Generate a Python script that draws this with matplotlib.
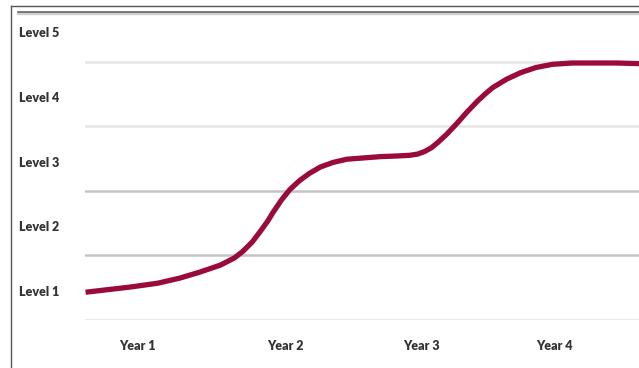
import matplotlib
matplotlib.use('Agg')
import matplotlib.pyplot as plt
import matplotlib.transforms as mtransforms
from matplotlib.lines import Line2D

# progression curve (x in years, y in levels)
years = [0.63, 0.95, 1.15, 1.31, 1.45, 1.60, 1.70, 1.76, 1.83, 1.89, 1.94, 1.98, 2.04,
         2.10, 2.17, 2.24, 2.32, 2.41, 2.51, 2.63, 2.75, 2.87, 2.96, 3.02, 3.07, 3.12,
         3.17, 3.23, 3.30, 3.37, 3.45, 3.51, 3.56, 3.66, 3.76, 3.87, 3.99, 4.13, 4.28, 4.45, 4.62]
levels = [0.93, 1.01, 1.07, 1.15, 1.24, 1.35, 1.46, 1.56, 1.71, 1.88, 2.03, 2.17, 2.36,
          2.52, 2.66, 2.77, 2.87, 2.94, 2.99, 3.01, 3.03, 3.04, 3.05, 3.07, 3.11, 3.17,
          3.26, 3.38, 3.54, 3.71, 3.89, 4.01, 4.10, 4.23, 4.33, 4.41, 4.46, 4.48, 4.48, 4.48, 4.47]

level_labels = ['Level 1', 'Level 2', 'Level 3', 'Level 4', 'Level 5']
level_pos = [1, 2, 3, 4, 5]
band_edges = [0.5, 1.5, 2.5, 3.5, 4.5]
year_labels = ['Year 1', 'Year 2', 'Year 3', 'Year 4']
year_pos = [1.0, 2.07, 3.05, 4.0]

W, H = 639, 368
fig = plt.figure(figsize=(W / 100, H / 100), dpi=100)
fig.patch.set_facecolor('white')

ax = fig.add_axes([85 / W, 1 - 320 / H, 1 - 85 / W, (320 - 12) / H])
ax.set_xlim(0.626, 4.612)
ax.set_ylim(0.5, 5.27)

grid_colors = ['#e2e2e2', '#c4c4c4', '#c4c4c4', '#e6e6e6', '#e6e6e6']
for yb, c in zip(band_edges, grid_colors):
    ax.axhline(yb, color=c, lw=1.8, zorder=1)

ax.plot(years, levels, color='#9b0a3c', lw=3.8, solid_capstyle='butt',
        solid_joinstyle='round', zorder=3)

for s in ax.spines.values():
    s.set_visible(False)
ax.set_xticks([])
ax.set_yticks([])

txt = dict(fontfamily=['Lato', 'DejaVu Sans'], fontweight='heavy', fontsize=9,
           color='#333333')

# level names sit a little below the middle of each band
left_tr = mtransforms.blended_transform_factory(fig.transFigure, ax.transData)
left_tr = mtransforms.offset_copy(left_tr, fig=fig, y=-4, units='dots')
for lab, yv in zip(level_labels, level_pos):
    fig.text(19 / W, yv, lab, transform=left_tr, ha='left', va='center', **txt)

bottom_tr = mtransforms.blended_transform_factory(ax.transData, fig.transFigure)
for lab, xv in zip(year_labels, year_pos):
    fig.text(xv, 1 - 346 / H, lab, transform=bottom_tr, ha='center', va='center', **txt)

# frame lines
fig.add_artist(Line2D([11 / W, 11 / W], [0, 1 - 6 / H], color='#555555', lw=1.0,
                      transform=fig.transFigure))
fig.add_artist(Line2D([11 / W, 1], [1 - 6 / H, 1 - 6 / H], color='#555555', lw=1.0,
                      transform=fig.transFigure))
fig.add_artist(Line2D([18 / W, 1], [1 - 12.5 / H, 1 - 12.5 / H], color='#d0d0d0', lw=2.4,
                      transform=fig.transFigure))
fig.add_artist(Line2D([18 / W, 1], [1 - 12 / H, 1 - 12 / H], color='#666666', lw=1.2,
                      transform=fig.transFigure))

fig.savefig('out.png', dpi=100)
